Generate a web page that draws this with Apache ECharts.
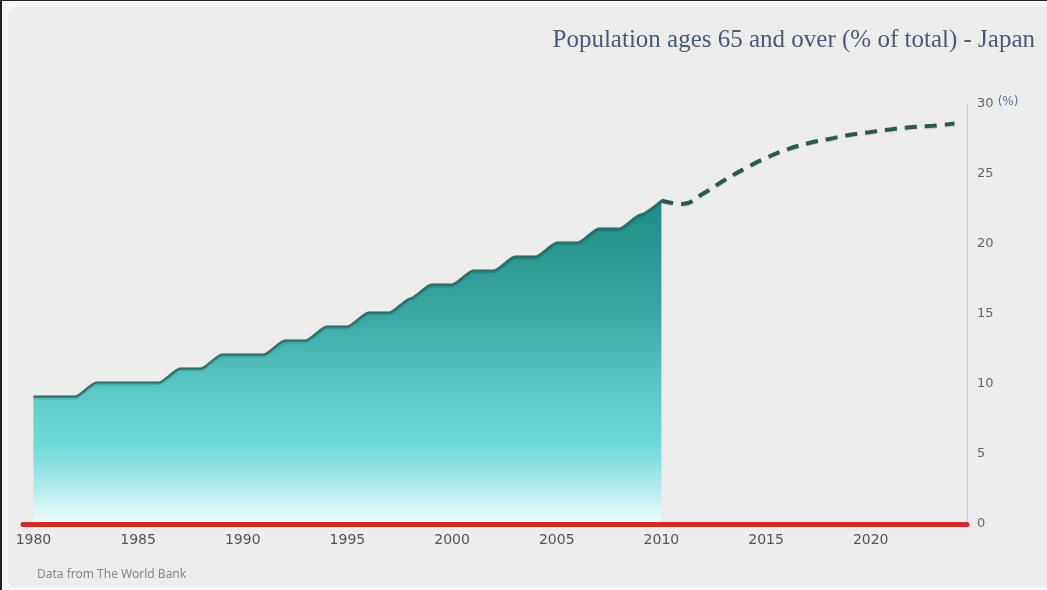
<!DOCTYPE html>
<html>
<head>
<meta charset="utf-8">
<script src="https://cdn.jsdelivr.net/npm/echarts@6/dist/echarts.min.js"></script>
<style>
  html, body { margin: 0; padding: 0; background: #f6f6f6; }
  #frameL { position: absolute; left: 0; top: 0; width: 2px; height: 590px; background: #222; }
  #frameT { position: absolute; left: 0; top: 0; width: 1047px; height: 1px; background: #222; }
  #panel { position: absolute; left: 8px; top: 7px; width: 1039px; height: 580px; background: #ececec; border-radius: 8px 0 0 8px; }
  #chart { position: absolute; left: 0; top: 0; width: 1047px; height: 590px; }
</style>
</head>
<body>
<div id="frameL"></div>
<div id="frameT"></div>
<div id="panel"></div>
<div id="chart"></div>
<script>
// Observed values (World Bank), % of population aged 65+ in Japan
const years = [1980,1981,1982,1983,1984,1985,1986,1987,1988,1989,1990,1991,1992,1993,1994,1995,1996,1997,1998,1999,2000,2001,2002,2003,2004,2005,2006,2007,2008,2009,2010];
const values = [9.1,9.1,9.1,10.1,10.1,10.1,10.1,11.1,11.1,12.1,12.1,12.1,13.1,13.1,14.1,14.1,15.1,15.1,16.1,17.1,17.1,18.1,18.1,19.1,19.1,20.1,20.1,21.1,21.1,22.1,23.1];
// Projection (dashed)
const projYears = [2010,2011,2012,2013,2014,2015,2016,2017,2018,2019,2020,2021,2022,2023,2024];
const projValues = [23.1,22.85,23.6,24.55,25.4,26.15,26.75,27.2,27.5,27.8,28.0,28.2,28.35,28.45,28.6];
// Axis ticks
const xTicks = [1980,1985,1990,1995,2000,2005,2010,2015,2020];
const titleText = 'Population ages 65 and over (% of total) - Japan';
const sourceText = 'Data from The World Bank';

const chart = echarts.init(document.getElementById('chart'), null, { renderer: 'canvas' });
chart.setOption({
  animation: false,
  backgroundColor: 'transparent',
  title: {
    text: titleText,
    right: 7,
    top: 23,
    textStyle: { fontFamily: 'Liberation Serif', fontSize: 25, fontWeight: 'normal', color: '#4b5a72' }
  },
  graphic: [{
    type: 'text', left: 37, top: 569,
    style: { text: sourceText, fill: '#888', font: '12px "Noto Sans"' }
  }],
  grid: { left: 23, right: 80, top: 104, bottom: 66 },
  xAxis: {
    type: 'value',
    min: 1979.5,
    max: 2024.6,
    z: 10,
    splitLine: { show: false },
    axisTick: { show: false },
    axisLine: { show: true, lineStyle: { color: '#d42a2a', width: 5 } },
    axisLabel: {
      customValues: xTicks,
      formatter: v => String(v),
      color: '#555',
      fontSize: 14,
      fontFamily: 'DejaVu Sans',
      margin: 9
    }
  },
  yAxis: {
    type: 'value',
    position: 'right',
    min: 0,
    max: 30,
    interval: 5,
    splitLine: { show: false },
    axisTick: { show: false },
    axisLine: { show: true, lineStyle: { color: '#c9c9c9', width: 1 } },
    axisLabel: {
      color: '#666',
      fontSize: 13,
      fontFamily: 'DejaVu Sans',
      margin: 10,
      formatter: v => v === 30 ? '30 {u|(%)}' : String(v),
      rich: { u: { color: '#5f7392', fontSize: 12, fontFamily: 'DejaVu Sans', padding: [0, 0, 4, 0] } }
    }
  },
  series: [
    {
      type: 'line',
      data: years.map((y, i) => [y, values[i]]),
      smooth: 0.2,
      smoothMonotone: 'x',
      symbol: 'none',
      z: 3,
      lineStyle: { color: '#2c6f6a', width: 2, shadowColor: 'rgba(0,0,0,0.3)', shadowBlur: 2, shadowOffsetY: 1 },
      areaStyle: {
        opacity: 1,
        color: new echarts.graphic.LinearGradient(0, 0, 0, 1, [
          { offset: 0, color: '#1f8d86' },
          { offset: 0.35, color: '#3aa7a4' },
          { offset: 0.62, color: '#60cdcd' },
          { offset: 0.75, color: '#6dd8d8' },
          { offset: 0.9, color: '#b8ecec' },
          { offset: 1, color: '#f2fcfc' }
        ])
      }
    },
    {
      type: 'line',
      data: projYears.map((y, i) => [y, projValues[i]]),
      smooth: 0.4,
      symbol: 'none',
      z: 4,
      lineStyle: { color: '#2d5752', width: 4, type: [12, 8], shadowColor: 'rgba(0,0,0,0.15)', shadowBlur: 1, shadowOffsetY: 1 }
    }
  ]
});
</script>
</body>
</html>
